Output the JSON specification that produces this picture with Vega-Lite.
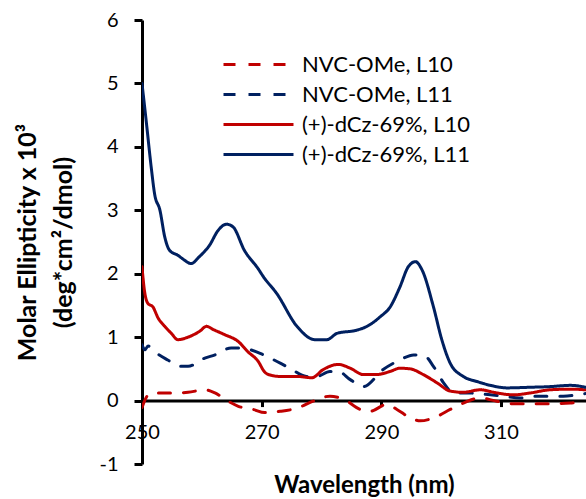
{
  "$schema": "https://vega.github.io/schema/vega-lite/v6.json",
  "autosize": {"type": "none"},
  "padding": {"left": 142, "top": 20, "right": 0, "bottom": 35},
  "width": 444,
  "height": 444,
  "background": "white",
  "config": {
    "font": "Lato",
    "view": {"stroke": null},
    "axis": {"grid": false, "domainColor": "black", "tickColor": "black", "labelColor": "black", "titleColor": "black", "domainWidth": 3, "tickWidth": 3, "labelFontSize": 20, "labelFont": "Lato", "titleFont": "Lato", "titleFontSize": 25, "titleFontWeight": "bold"}
  },
  "datasets": {
    "cd": [
      {"series": "NVC-OMe, L10", "wl": 250, "v": -0.11},
      {"series": "NVC-OMe, L10", "wl": 250.7, "v": 0.05},
      {"series": "NVC-OMe, L10", "wl": 251.3, "v": 0.11},
      {"series": "NVC-OMe, L10", "wl": 252.7, "v": 0.12},
      {"series": "NVC-OMe, L10", "wl": 255.5, "v": 0.12},
      {"series": "NVC-OMe, L10", "wl": 257.7, "v": 0.13},
      {"series": "NVC-OMe, L10", "wl": 260.5, "v": 0.17},
      {"series": "NVC-OMe, L10", "wl": 262.2, "v": 0.12},
      {"series": "NVC-OMe, L10", "wl": 264.4, "v": -0.01},
      {"series": "NVC-OMe, L10", "wl": 266.1, "v": -0.09},
      {"series": "NVC-OMe, L10", "wl": 268.6, "v": -0.14},
      {"series": "NVC-OMe, L10", "wl": 270.5, "v": -0.19},
      {"series": "NVC-OMe, L10", "wl": 273.1, "v": -0.17},
      {"series": "NVC-OMe, L10", "wl": 275.9, "v": -0.12},
      {"series": "NVC-OMe, L10", "wl": 278.6, "v": -0.01},
      {"series": "NVC-OMe, L10", "wl": 281.4, "v": 0.07},
      {"series": "NVC-OMe, L10", "wl": 283.7, "v": 0.02},
      {"series": "NVC-OMe, L10", "wl": 286.5, "v": -0.14},
      {"series": "NVC-OMe, L10", "wl": 288.1, "v": -0.17},
      {"series": "NVC-OMe, L10", "wl": 290.9, "v": -0.06},
      {"series": "NVC-OMe, L10", "wl": 292.6, "v": -0.14},
      {"series": "NVC-OMe, L10", "wl": 294.8, "v": -0.27},
      {"series": "NVC-OMe, L10", "wl": 296.5, "v": -0.32},
      {"series": "NVC-OMe, L10", "wl": 299.3, "v": -0.25},
      {"series": "NVC-OMe, L10", "wl": 301.5, "v": -0.14},
      {"series": "NVC-OMe, L10", "wl": 303.7, "v": -0.04},
      {"series": "NVC-OMe, L10", "wl": 306.5, "v": 0.04},
      {"series": "NVC-OMe, L10", "wl": 309.3, "v": -0.01},
      {"series": "NVC-OMe, L10", "wl": 312.1, "v": -0.05},
      {"series": "NVC-OMe, L10", "wl": 314.9, "v": -0.05},
      {"series": "NVC-OMe, L10", "wl": 318.2, "v": -0.05},
      {"series": "NVC-OMe, L10", "wl": 321.6, "v": -0.04},
      {"series": "NVC-OMe, L10", "wl": 324.1, "v": 0.02},

      {"series": "NVC-OMe, L11", "wl": 250, "v": 0.88},
      {"series": "NVC-OMe, L11", "wl": 250.5, "v": 0.8},
      {"series": "NVC-OMe, L11", "wl": 251, "v": 0.86},
      {"series": "NVC-OMe, L11", "wl": 252.4, "v": 0.75},
      {"series": "NVC-OMe, L11", "wl": 254.3, "v": 0.64},
      {"series": "NVC-OMe, L11", "wl": 256.3, "v": 0.54},
      {"series": "NVC-OMe, L11", "wl": 257.7, "v": 0.54},
      {"series": "NVC-OMe, L11", "wl": 260.5, "v": 0.67},
      {"series": "NVC-OMe, L11", "wl": 262.2, "v": 0.72},
      {"series": "NVC-OMe, L11", "wl": 264.9, "v": 0.83},
      {"series": "NVC-OMe, L11", "wl": 267.2, "v": 0.82},
      {"series": "NVC-OMe, L11", "wl": 270.3, "v": 0.72},
      {"series": "NVC-OMe, L11", "wl": 273.1, "v": 0.59},
      {"series": "NVC-OMe, L11", "wl": 274.7, "v": 0.51},
      {"series": "NVC-OMe, L11", "wl": 277.5, "v": 0.38},
      {"series": "NVC-OMe, L11", "wl": 279.2, "v": 0.38},
      {"series": "NVC-OMe, L11", "wl": 281.4, "v": 0.46},
      {"series": "NVC-OMe, L11", "wl": 282.8, "v": 0.46},
      {"series": "NVC-OMe, L11", "wl": 284.8, "v": 0.33},
      {"series": "NVC-OMe, L11", "wl": 287, "v": 0.22},
      {"series": "NVC-OMe, L11", "wl": 290.3, "v": 0.49},
      {"series": "NVC-OMe, L11", "wl": 293.1, "v": 0.64},
      {"series": "NVC-OMe, L11", "wl": 295.4, "v": 0.72},
      {"series": "NVC-OMe, L11", "wl": 297.3, "v": 0.7},
      {"series": "NVC-OMe, L11", "wl": 298.7, "v": 0.54},
      {"series": "NVC-OMe, L11", "wl": 300.4, "v": 0.28},
      {"series": "NVC-OMe, L11", "wl": 302.1, "v": 0.12},
      {"series": "NVC-OMe, L11", "wl": 304.3, "v": 0.12},
      {"series": "NVC-OMe, L11", "wl": 308.2, "v": 0.09},
      {"series": "NVC-OMe, L11", "wl": 310.4, "v": 0.07},
      {"series": "NVC-OMe, L11", "wl": 313.2, "v": 0.04},
      {"series": "NVC-OMe, L11", "wl": 315.4, "v": 0.07},
      {"series": "NVC-OMe, L11", "wl": 318.2, "v": 0.07},
      {"series": "NVC-OMe, L11", "wl": 320.4, "v": 0.07},
      {"series": "NVC-OMe, L11", "wl": 322.7, "v": 0.09},
      {"series": "NVC-OMe, L11", "wl": 324.1, "v": 0.11},

      {"series": "(+)-dCz-69%, L10", "wl": 250, "v": 2.11},
      {"series": "(+)-dCz-69%, L10", "wl": 250.4, "v": 1.74},
      {"series": "(+)-dCz-69%, L10", "wl": 251, "v": 1.53},
      {"series": "(+)-dCz-69%, L10", "wl": 251.8, "v": 1.48},
      {"series": "(+)-dCz-69%, L10", "wl": 252.7, "v": 1.3},
      {"series": "(+)-dCz-69%, L10", "wl": 253.8, "v": 1.17},
      {"series": "(+)-dCz-69%, L10", "wl": 254.9, "v": 1.06},
      {"series": "(+)-dCz-69%, L10", "wl": 256, "v": 0.96},
      {"series": "(+)-dCz-69%, L10", "wl": 257.7, "v": 1.0},
      {"series": "(+)-dCz-69%, L10", "wl": 259.6, "v": 1.09},
      {"series": "(+)-dCz-69%, L10", "wl": 260.8, "v": 1.17},
      {"series": "(+)-dCz-69%, L10", "wl": 261.9, "v": 1.12},
      {"series": "(+)-dCz-69%, L10", "wl": 263.8, "v": 1.04},
      {"series": "(+)-dCz-69%, L10", "wl": 266.1, "v": 0.93},
      {"series": "(+)-dCz-69%, L10", "wl": 267.7, "v": 0.77},
      {"series": "(+)-dCz-69%, L10", "wl": 269.4, "v": 0.62},
      {"series": "(+)-dCz-69%, L10", "wl": 270.5, "v": 0.45},
      {"series": "(+)-dCz-69%, L10", "wl": 271.5, "v": 0.4},
      {"series": "(+)-dCz-69%, L10", "wl": 273.1, "v": 0.38},
      {"series": "(+)-dCz-69%, L10", "wl": 275.9, "v": 0.38},
      {"series": "(+)-dCz-69%, L10", "wl": 278.4, "v": 0.36},
      {"series": "(+)-dCz-69%, L10", "wl": 280.3, "v": 0.49},
      {"series": "(+)-dCz-69%, L10", "wl": 282.8, "v": 0.57},
      {"series": "(+)-dCz-69%, L10", "wl": 284.8, "v": 0.51},
      {"series": "(+)-dCz-69%, L10", "wl": 287, "v": 0.41},
      {"series": "(+)-dCz-69%, L10", "wl": 289.2, "v": 0.41},
      {"series": "(+)-dCz-69%, L10", "wl": 291.5, "v": 0.46},
      {"series": "(+)-dCz-69%, L10", "wl": 293.1, "v": 0.51},
      {"series": "(+)-dCz-69%, L10", "wl": 294.8, "v": 0.5},
      {"series": "(+)-dCz-69%, L10", "wl": 297, "v": 0.41},
      {"series": "(+)-dCz-69%, L10", "wl": 299.3, "v": 0.28},
      {"series": "(+)-dCz-69%, L10", "wl": 301.5, "v": 0.15},
      {"series": "(+)-dCz-69%, L10", "wl": 303.7, "v": 0.13},
      {"series": "(+)-dCz-69%, L10", "wl": 306.5, "v": 0.17},
      {"series": "(+)-dCz-69%, L10", "wl": 309.3, "v": 0.12},
      {"series": "(+)-dCz-69%, L10", "wl": 312.1, "v": 0.09},
      {"series": "(+)-dCz-69%, L10", "wl": 314.9, "v": 0.12},
      {"series": "(+)-dCz-69%, L10", "wl": 318.2, "v": 0.17},
      {"series": "(+)-dCz-69%, L10", "wl": 321.6, "v": 0.18},
      {"series": "(+)-dCz-69%, L10", "wl": 324.1, "v": 0.17},

      {"series": "(+)-dCz-69%, L11", "wl": 250, "v": 5.0},
      {"series": "(+)-dCz-69%, L11", "wl": 250.7, "v": 4.41},
      {"series": "(+)-dCz-69%, L11", "wl": 251.6, "v": 3.63},
      {"series": "(+)-dCz-69%, L11", "wl": 252.1, "v": 3.26},
      {"series": "(+)-dCz-69%, L11", "wl": 253, "v": 3.0},
      {"series": "(+)-dCz-69%, L11", "wl": 253.8, "v": 2.58},
      {"series": "(+)-dCz-69%, L11", "wl": 254.6, "v": 2.37},
      {"series": "(+)-dCz-69%, L11", "wl": 256, "v": 2.29},
      {"series": "(+)-dCz-69%, L11", "wl": 257, "v": 2.22},
      {"series": "(+)-dCz-69%, L11", "wl": 258.2, "v": 2.16},
      {"series": "(+)-dCz-69%, L11", "wl": 259.6, "v": 2.27},
      {"series": "(+)-dCz-69%, L11", "wl": 261.3, "v": 2.45},
      {"series": "(+)-dCz-69%, L11", "wl": 262.7, "v": 2.68},
      {"series": "(+)-dCz-69%, L11", "wl": 264.1, "v": 2.78},
      {"series": "(+)-dCz-69%, L11", "wl": 265.2, "v": 2.74},
      {"series": "(+)-dCz-69%, L11", "wl": 267.1, "v": 2.37},
      {"series": "(+)-dCz-69%, L11", "wl": 269.4, "v": 2.08},
      {"series": "(+)-dCz-69%, L11", "wl": 270.3, "v": 1.95},
      {"series": "(+)-dCz-69%, L11", "wl": 272.5, "v": 1.69},
      {"series": "(+)-dCz-69%, L11", "wl": 275.9, "v": 1.17},
      {"series": "(+)-dCz-69%, L11", "wl": 278.9, "v": 0.96},
      {"series": "(+)-dCz-69%, L11", "wl": 280.9, "v": 0.96},
      {"series": "(+)-dCz-69%, L11", "wl": 282.6, "v": 1.06},
      {"series": "(+)-dCz-69%, L11", "wl": 285.9, "v": 1.11},
      {"series": "(+)-dCz-69%, L11", "wl": 287.6, "v": 1.17},
      {"series": "(+)-dCz-69%, L11", "wl": 289.8, "v": 1.32},
      {"series": "(+)-dCz-69%, L11", "wl": 291.5, "v": 1.48},
      {"series": "(+)-dCz-69%, L11", "wl": 293.1, "v": 1.79},
      {"series": "(+)-dCz-69%, L11", "wl": 294.5, "v": 2.11},
      {"series": "(+)-dCz-69%, L11", "wl": 295.7, "v": 2.19},
      {"series": "(+)-dCz-69%, L11", "wl": 296.8, "v": 2.06},
      {"series": "(+)-dCz-69%, L11", "wl": 298.7, "v": 1.48},
      {"series": "(+)-dCz-69%, L11", "wl": 300.1, "v": 0.96},
      {"series": "(+)-dCz-69%, L11", "wl": 301.5, "v": 0.59},
      {"series": "(+)-dCz-69%, L11", "wl": 303.7, "v": 0.38},
      {"series": "(+)-dCz-69%, L11", "wl": 306, "v": 0.3},
      {"series": "(+)-dCz-69%, L11", "wl": 308.2, "v": 0.24},
      {"series": "(+)-dCz-69%, L11", "wl": 311, "v": 0.2},
      {"series": "(+)-dCz-69%, L11", "wl": 314.9, "v": 0.21},
      {"series": "(+)-dCz-69%, L11", "wl": 318.2, "v": 0.22},
      {"series": "(+)-dCz-69%, L11", "wl": 321.6, "v": 0.24},
      {"series": "(+)-dCz-69%, L11", "wl": 324.1, "v": 0.21}
    ]
  },
  "data": {"name": "cd"},
  "mark": {"type": "line", "interpolate": "monotone", "strokeWidth": 3, "strokeCap": "round", "clip": true},
  "encoding": {
    "x": {
      "field": "wl", "type": "quantitative",
      "scale": {"domain": [250, 324.2], "nice": false, "zero": false},
      "axis": {"title": "Wavelength (nm)", "titleFontSize": 24, "values": [250, 270, 290, 310], "offset": -63.43, "tickSize": 6, "labelPadding": 16, "labelFlush": false, "labelOverlap": false, "titleBaseline": "middle", "titleY": 85}
    },
    "y": {
      "field": "v", "type": "quantitative",
      "scale": {"domain": [-1, 6], "nice": false},
      "axis": {"title": ["Molar Ellipticity x 10³", "(deg*cm²/dmol)"], "values": [-1, 0, 1, 2, 3, 4, 5, 6], "labelExpr": "'' + datum.value", "tickSize": 8, "labelPadding": 16, "titleLineHeight": 36, "titleBaseline": "middle", "titleX": -115}
    },
    "color": {
      "field": "series", "type": "nominal",
      "scale": {"domain": ["NVC-OMe, L10", "NVC-OMe, L11", "(+)-dCz-69%, L10", "(+)-dCz-69%, L11"], "range": ["#C00000", "#002060", "#C00000", "#002060"]},
      "legend": {"title": null, "orient": "none", "legendX": 101, "legendY": 29, "symbolType": "M-2.5,0L2.5,0", "symbolSize": 784, "symbolStrokeWidth": 3, "symbolFillColor": "transparent", "labelFontSize": 22, "labelLimit": 0, "labelColor": "black", "labelOffset": 28, "rowPadding": 3, "padding": 0}
    },
    "strokeDash": {
      "field": "series", "type": "nominal",
      "scale": {"domain": ["NVC-OMe, L10", "NVC-OMe, L11", "(+)-dCz-69%, L10", "(+)-dCz-69%, L11"], "range": [[12, 13], [12, 13], [1, 0], [1, 0]]},
      "legend": null
    }
  }
}
